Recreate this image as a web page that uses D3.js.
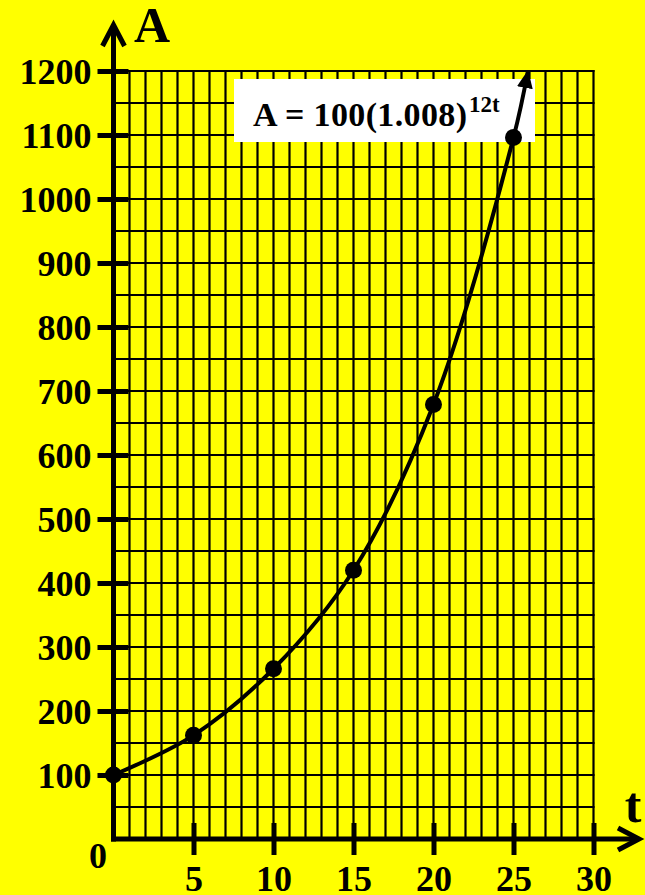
<!DOCTYPE html>
<html><head><meta charset="utf-8">
<script src="https://cdn.jsdelivr.net/npm/d3@7"></script>
<style>html,body{margin:0;padding:0;background:#ffff00;overflow:hidden} svg{display:block}</style>
</head><body>
<svg id="c" width="645" height="895"></svg>
<script>
// ---- data ----
const tValues = [0, 5, 10, 15, 20, 25];
const aValues = [100, 162, 266, 420, 679, 1096];
const curveTip = [25.9, 1200];
const xTickValues = [5, 10, 15, 20, 25, 30];
const xTickLabels = ["5", "10", "15", "20", "25", "30"];
const yTickValues = [100, 200, 300, 400, 500, 600, 700, 800, 900, 1000, 1100, 1200];
const yTickLabels = ["100", "200", "300", "400", "500", "600", "700", "800", "900", "1000", "1100", "1200"];
const originLabel = "0";
const xAxisTitle = "t";
const yAxisTitle = "A";
const formulaBase = "A = 100(1.008)";
const formulaExp = "12t";

// ---- layout ----
const FONT = "'Liberation Serif','Times New Roman',Times,serif";
const svg = d3.select("#c");
svg.append("rect").attr("width", 645).attr("height", 895).attr("fill", "#ffff00");

const x = d3.scaleLinear().domain([0, 30]).range([113.5, 593.5]);
const y = d3.scaleLinear().domain([0, 1200]).range([839, 71]);

// grid
const grid = svg.append("g").attr("stroke", "#000").attr("stroke-width", 2.2);
grid.selectAll("line.v").data(d3.range(1, 31)).join("line")
  .attr("class", "v")
  .attr("x1", d => x(d)).attr("x2", d => x(d))
  .attr("y1", y(0)).attr("y2", y(1200) - 1);
grid.selectAll("line.h").data(d3.range(50, 1201, 50)).join("line")
  .attr("class", "h")
  .attr("x1", x(0)).attr("x2", x(30) + 1)
  .attr("y1", d => y(d)).attr("y2", d => y(d));

// axes lines with chevron arrows
const ax = svg.append("g").attr("stroke", "#000").attr("stroke-width", 5).attr("fill", "none");
ax.append("line").attr("x1", x(0)).attr("x2", x(0)).attr("y1", y(0) + 2.5).attr("y2", 25);
ax.append("path").attr("d", `M${x(0) - 11},${46} L${x(0)},${25} L${x(0) + 11},${46}`)
  .attr("stroke-linejoin", "miter");
ax.append("line").attr("x1", x(0) - 2.5).attr("x2", 638).attr("y1", y(0)).attr("y2", y(0));
ax.append("path").attr("d", `M${618},${y(0) - 11} L${639},${y(0)} L${618},${y(0) + 11}`)
  .attr("stroke-linejoin", "miter");

// y axis (d3 axis, restyled)
const yAxisG = svg.append("g").attr("transform", `translate(${x(0)},0)`)
  .call(d3.axisLeft(y).tickValues(yTickValues).tickFormat((d, i) => yTickLabels[i]).tickSize(16).tickSizeOuter(0));
yAxisG.select(".domain").remove();
yAxisG.selectAll(".tick line").attr("x1", -16).attr("x2", 15).attr("stroke", "#000").attr("stroke-width", 5);
yAxisG.selectAll(".tick text").attr("x", -22).attr("dy", "0.36em")
  .attr("font-family", FONT).attr("font-weight", "bold").attr("font-size", 36).attr("fill", "#000");

// x axis
const xAxisG = svg.append("g").attr("transform", `translate(0,${y(0)})`)
  .call(d3.axisBottom(x).tickValues(xTickValues).tickFormat((d, i) => xTickLabels[i]).tickSize(16).tickSizeOuter(0));
xAxisG.select(".domain").remove();
xAxisG.selectAll(".tick line").attr("y1", -16).attr("y2", 16).attr("stroke", "#000").attr("stroke-width", 5);
xAxisG.selectAll(".tick text").attr("y", 52).attr("dy", 0)
  .attr("font-family", FONT).attr("font-weight", "bold").attr("font-size", 36).attr("fill", "#000");

// origin label and axis titles
svg.append("text").attr("x", 98).attr("y", 868).attr("text-anchor", "middle")
  .attr("font-family", FONT).attr("font-weight", "bold").attr("font-size", 36).text(originLabel);
svg.append("text").attr("x", 152).attr("y", 42).attr("text-anchor", "middle")
  .attr("font-family", FONT).attr("font-weight", "bold").attr("font-size", 50).text(yAxisTitle);
svg.append("text").attr("x", 633).attr("y", 822).attr("text-anchor", "middle")
  .attr("font-family", FONT).attr("font-weight", "bold").attr("font-size", 50).text(xAxisTitle);

// formula box
svg.append("rect").attr("x", 234).attr("y", 79).attr("width", 301).attr("height", 63).attr("fill", "#fff");
svg.append("text").attr("x", 253).attr("y", 126)
  .attr("font-family", FONT).attr("font-weight", "bold").attr("font-size", 34).attr("fill", "#000")
  .attr("textLength", 214).attr("lengthAdjust", "spacing").text(formulaBase);
svg.append("text").attr("x", 469).attr("y", 112)
  .attr("font-family", FONT).attr("font-weight", "bold").attr("font-size", 23).attr("fill", "#000")
  .text(formulaExp);

// curve with arrow
const defs = svg.append("defs");
defs.append("marker").attr("id", "arr").attr("markerUnits", "userSpaceOnUse")
  .attr("viewBox", "0 0 18 16").attr("refX", 17).attr("refY", 8)
  .attr("markerWidth", 18).attr("markerHeight", 16).attr("orient", "auto")
  .append("path").attr("d", "M0,0 L18,8 L0,16 Z").attr("fill", "#000");

const curvePts = tValues.map((t, i) => [t, aValues[i]]).concat([curveTip]);
const line = d3.line().x(d => x(d[0])).y(d => y(d[1])).curve(d3.curveCatmullRom.alpha(0.5));
svg.append("path").attr("d", line(curvePts)).attr("fill", "none")
  .attr("stroke", "#000").attr("stroke-width", 4).attr("marker-end", "url(#arr)");

svg.append("g").selectAll("circle").data(tValues).join("circle")
  .attr("cx", d => x(d)).attr("cy", (d, i) => y(aValues[i])).attr("r", 8.5).attr("fill", "#000");
</script>
</body></html>
